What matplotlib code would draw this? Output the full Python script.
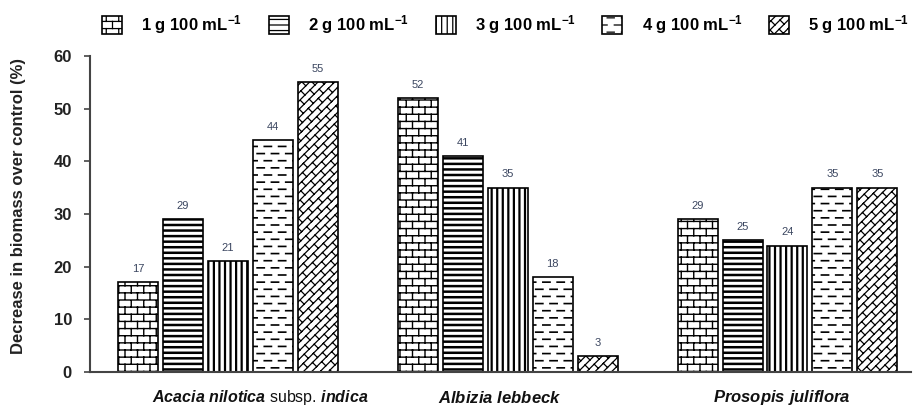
import warnings
import numpy as np
import matplotlib
matplotlib.use("Agg")
import matplotlib.pyplot as plt
from matplotlib import hatch as mhatch
from matplotlib.path import Path

warnings.filterwarnings("ignore", message="hatch must consist")

species = [r"$\it{Acacia\ nilotica}$ subsp. $\it{indica}$",
           r"$\it{Albizia\ lebbeck}$",
           r"$\it{Prosopis\ juliflora}$"]
doses = [r"1 g 100 mL$^{\mathbf{-1}}$", r"2 g 100 mL$^{\mathbf{-1}}$",
         r"3 g 100 mL$^{\mathbf{-1}}$", r"4 g 100 mL$^{\mathbf{-1}}$",
         r"5 g 100 mL$^{\mathbf{-1}}$"]
# decrease in biomass (%) per dose, one list per species
acacia = [17, 29, 21, 44, 55]
albizia = [52, 41, 35, 18, 3]
prosopis = [29, 25, 24, 35, 35]
yticks = [0, 10, 20, 30, 40, 50, 60]


# extra hatch patterns: bricks, staggered dashes, diagonal bricks
class _Segments(mhatch.HatchPatternBase):
    key = None

    def __init__(self, hatch, density):
        self.segs = self.make_segments() if self.key in hatch else []
        self.num_vertices = 2 * len(self.segs)

    def set_vertices_and_codes(self, vertices, codes):
        for i, (p, q) in enumerate(self.segs):
            vertices[2 * i] = p
            vertices[2 * i + 1] = q
            codes[2 * i] = Path.MOVETO
            codes[2 * i + 1] = Path.LINETO


class BrickHatch(_Segments):
    key = "b"
    rows, cols = 14, 8

    def make_segments(self):
        segs = []
        for r in range(self.rows + 1):
            y = r / self.rows
            segs.append(((0, y), (1, y)))
        for r in range(self.rows):
            shift = 0.5 * (r % 2)
            for c in range(self.cols + 1):
                x = (c + shift) / self.cols
                segs.append(((x, r / self.rows), (x, (r + 1) / self.rows)))
        return segs


class DashHatch(_Segments):
    key = "d"
    rows, cols = 14, 7

    def make_segments(self):
        segs = []
        for r in range(self.rows):
            y = (r + 0.5) / self.rows
            shift = 0.5 * (r % 2)
            for c in range(-1, self.cols + 1):
                x0 = (c + shift) / self.cols
                segs.append(((x0, y), (x0 + 0.5 / self.cols, y)))
        return segs


class DiagBrickHatch(_Segments):
    key = "k"
    n, p = 12, 5

    def make_segments(self):
        segs = []
        for j in range(-self.n, self.n + 1):
            d = j / self.n
            segs.append(((d, 0), (1 + d, 1)))
        for j in range(-self.n, self.n):
            d0, d1 = j / self.n, (j + 1) / self.n
            shift = 0.5 * (j % 2)
            for k in range(0, 2 * self.p + 1):
                s = (k + shift) / self.p
                segs.append((((s + d0) / 2, (s - d0) / 2),
                             ((s + d1) / 2, (s - d1) / 2)))
        return segs


mhatch._hatch_types.extend([BrickHatch, DashHatch, DiagBrickHatch])

plt.rcParams["font.family"] = "Liberation Sans"
plt.rcParams["mathtext.fontset"] = "custom"
plt.rcParams["mathtext.rm"] = "Liberation Sans"
plt.rcParams["mathtext.bf"] = "Liberation Sans:bold"
plt.rcParams["mathtext.it"] = "Liberation Sans:italic:bold"
plt.rcParams["hatch.color"] = "black"

hatches = ["b", "---", "|||", "d", "k"]
hatch_lw = [1.0, 1.8, 1.6, 1.2, 0.9]
values = np.array([acacia, albizia, prosopis])

fig = plt.figure(figsize=(9.16, 4.11), dpi=100)
ax = fig.add_axes([0.0983, 0.0949, 0.8967, 0.7688])

x = np.arange(len(species))
step, width = 0.1607, 0.143
for i in range(len(doses)):
    plt.rcParams["hatch.linewidth"] = hatch_lw[i]
    xs = x + (i - 2) * step
    bars = ax.bar(xs, values[:, i], width, color="white", edgecolor="black",
                  linewidth=1.2, hatch=hatches[i], label=doses[i])
    for b, v in zip(bars, values[:, i]):
        if hasattr(b, "set_hatch_linewidth"):
            b.set_hatch_linewidth(hatch_lw[i])
        ax.annotate(str(v), (b.get_x() + b.get_width() / 2, v),
                    xytext=(0, 6), textcoords="offset points",
                    ha="center", va="bottom", fontsize=8, color="#3b4660")

ax.set_xlim(-0.493, 2.443)
ax.set_ylim(0, 60)
ax.set_yticks(yticks)
ax.tick_params(axis="y", direction="out", length=4, width=1.2, colors="#444",
               labelsize=12, labelcolor="#222", pad=9)
for lab in ax.get_yticklabels():
    lab.set_fontweight("bold")
ax.set_xticks([])
for side in ["top", "right"]:
    ax.spines[side].set_visible(False)
for side in ["left", "bottom"]:
    ax.spines[side].set_color("#444")
    ax.spines[side].set_linewidth(1.5)

label_shift = [0.114, -0.03, -0.02]
label_size = [11.5, 12, 12]
for xc, name, dx, fs in zip(x, species, label_shift, label_size):
    ax.text(xc + dx, -0.082, name, transform=ax.get_xaxis_transform(),
            ha="center", va="center", fontsize=fs, color="#111")

fig.text(0.02, 0.5, "Decrease in biomass over control (%)", rotation=90,
         ha="center", va="center", fontsize=12, fontweight="bold",
         color="#222")

fig.legend(loc="center", bbox_to_anchor=(0.552, 0.94), ncol=5, frameon=False,
           prop={"weight": "bold", "size": 12}, handlelength=1.2,
           handleheight=1.35, handletextpad=1.15, columnspacing=1.6)

fig.savefig("out.png", dpi=100)
